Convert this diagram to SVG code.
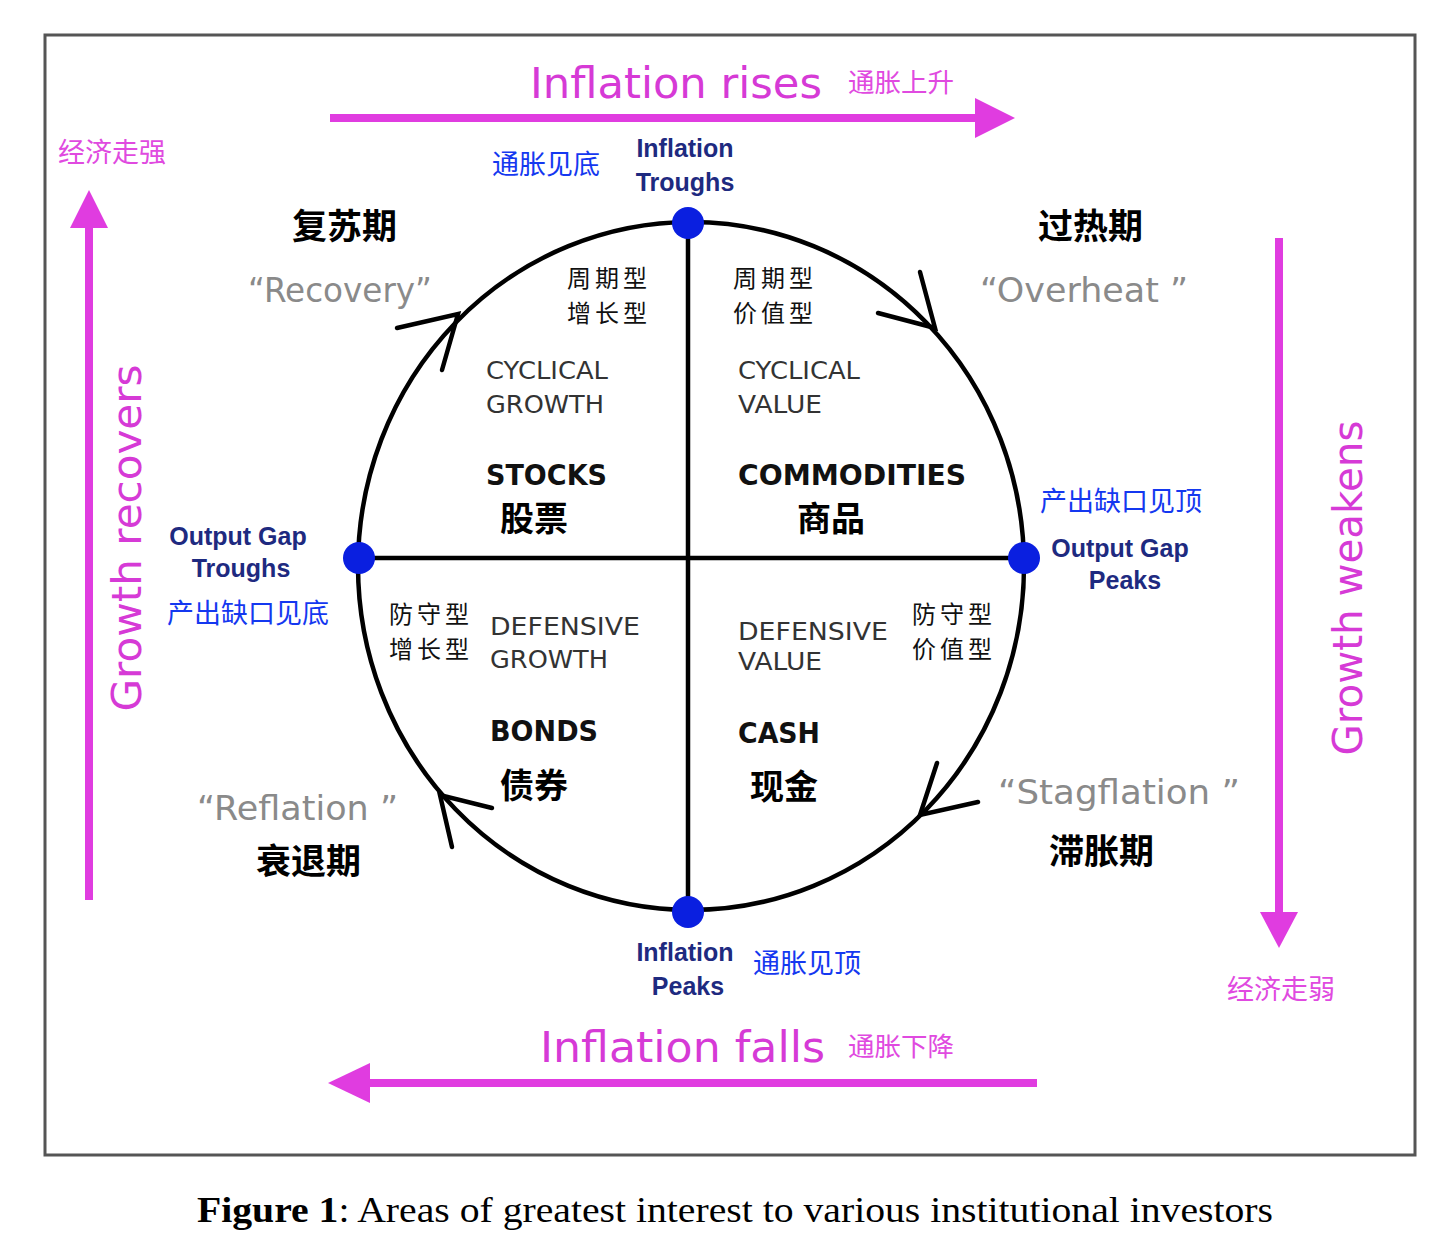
<svg xmlns="http://www.w3.org/2000/svg" width="1452" height="1242" viewBox="0 0 1452 1242">
<style>
.mag{fill:#d63ad6;font-family:"DejaVu Sans",sans-serif}
.magcn{fill:#e04ae0;font-family:"Noto Sans CJK SC",sans-serif}
.blue{fill:#1438f0;font-family:"Noto Sans CJK SC",sans-serif;font-size:27px}
.navy{fill:#1e2a80;font-family:"Liberation Sans",Arial,sans-serif;font-weight:bold;font-size:25px;text-anchor:middle}
.phase{fill:#000;font-family:"Noto Sans CJK SC",sans-serif;font-weight:bold;font-size:35px}
.quote{fill:#8a8a8a;font-family:"DejaVu Sans",sans-serif;font-size:33px}
.cn{fill:#111;font-family:"Noto Sans CJK SC",sans-serif;font-size:24px;letter-spacing:4px}
.comic{fill:#333;font-family:"DejaVu Sans",sans-serif;font-size:24px}
.asset{fill:#111;font-family:"DejaVu Sans",sans-serif;font-weight:bold;font-size:29px}
.assetcn{fill:#000;font-family:"Noto Sans CJK SC",sans-serif;font-weight:bold;font-size:34px}
.cyc{fill:none;stroke:#000;stroke-width:4.5;stroke-linecap:round}
.magline{stroke:#e03ce0;stroke-width:8;fill:none}
.dot{fill:#0a1fe0}
</style>
<rect x="0" y="0" width="1452" height="1242" fill="#fff"/>
<rect x="45" y="35" width="1370" height="1120" fill="none" stroke="#555" stroke-width="3"/>

<g id="connectors">
  <line class="magline" x1="330" y1="118" x2="980" y2="118"/>
  <polygon points="975,98 1015,118 975,138" fill="#e03ce0"/>
  <line class="magline" x1="1037" y1="1083" x2="365" y2="1083"/>
  <polygon points="370,1063 328,1083 370,1103" fill="#e03ce0"/>
  <line class="magline" x1="89" y1="900" x2="89" y2="222"/>
  <polygon points="70,228 89,190 108,228" fill="#e03ce0"/>
  <line class="magline" x1="1279" y1="238" x2="1279" y2="915"/>
  <polygon points="1260,912 1279,948 1298,912" fill="#e03ce0"/>
  <ellipse class="cyc" cx="691" cy="566" rx="333" ry="344"/>
  <line class="cyc" x1="688" y1="223" x2="688" y2="912"/>
  <line class="cyc" x1="359" y1="558" x2="1024" y2="558"/>
  <polyline class="cyc" points="397,328 458,314 442,370"/>
  <polyline class="cyc" points="920,272 935,328 878,313"/>
  <polyline class="cyc" points="937,763 920,815 978,802"/>
  <polyline class="cyc" points="492,808 440,795 452,847"/>
</g>

<g id="node-inflation-troughs">
  <circle class="dot" cx="688" cy="223" r="16"/>
  <text class="navy" x="685" y="157">Inflation</text>
  <text class="navy" x="685" y="191">Troughs</text>
  <text class="blue" x="492" y="174">通胀见底</text>
</g>
<g id="node-output-gap-peaks">
  <circle class="dot" cx="1024" cy="558" r="16"/>
  <text class="navy" x="1120" y="557">Output Gap</text>
  <text class="navy" x="1125" y="589">Peaks</text>
  <text class="blue" x="1040" y="511">产出缺口见顶</text>
</g>
<g id="node-output-gap-troughs">
  <circle class="dot" cx="359" cy="558" r="16"/>
  <text class="navy" x="238" y="545">Output Gap</text>
  <text class="navy" x="241" y="577">Troughs</text>
  <text class="blue" x="167" y="623">产出缺口见底</text>
</g>
<g id="node-inflation-peaks">
  <circle class="dot" cx="688" cy="912" r="16"/>
  <text class="navy" x="685" y="961">Inflation</text>
  <text class="navy" x="688" y="995">Peaks</text>
  <text class="blue" x="753" y="973">通胀见顶</text>
</g>

<g id="axis-labels">
  <text class="mag" x="530" y="98" font-size="42" textLength="292" lengthAdjust="spacingAndGlyphs">Inflation rises</text>
  <text class="magcn" x="848" y="92" font-size="26.5">通胀上升</text>
  <text class="mag" x="540" y="1062" font-size="42" textLength="285" lengthAdjust="spacingAndGlyphs">Inflation falls</text>
  <text class="magcn" x="848" y="1056" font-size="26.5">通胀下降</text>
  <text class="magcn" x="58" y="162" font-size="27">经济走强</text>
  <text class="magcn" x="1227" y="999" font-size="27">经济走弱</text>
  <text class="mag" font-size="40" text-anchor="middle" transform="translate(141,538) rotate(-90)" textLength="347" lengthAdjust="spacingAndGlyphs">Growth recovers</text>
  <text class="mag" font-size="40" text-anchor="middle" transform="translate(1362,588) rotate(-90)" textLength="335" lengthAdjust="spacingAndGlyphs">Growth weakens</text>
</g>

<g id="phase-recovery">
  <text class="phase" x="292" y="239">复苏期</text>
  <text class="quote" x="248" y="302" textLength="184" lengthAdjust="spacingAndGlyphs">“Recovery”</text>
</g>
<g id="phase-overheat">
  <text class="phase" x="1038" y="239">过热期</text>
  <text class="quote" x="980" y="302" textLength="208" lengthAdjust="spacingAndGlyphs">“Overheat ”</text>
</g>
<g id="phase-reflation">
  <text class="quote" x="197" y="820" textLength="201" lengthAdjust="spacingAndGlyphs">“Reflation ”</text>
  <text class="phase" x="256" y="874">衰退期</text>
</g>
<g id="phase-stagflation">
  <text class="quote" x="998" y="804" textLength="242" lengthAdjust="spacingAndGlyphs">“Stagflation ”</text>
  <text class="phase" x="1049" y="864">滞胀期</text>
</g>

<g id="quadrant-stocks">
  <text class="cn" x="567" y="287">周期型</text>
  <text class="cn" x="567" y="322">增长型</text>
  <text class="comic" x="486" y="379" textLength="122" lengthAdjust="spacingAndGlyphs">CYCLICAL</text>
  <text class="comic" x="486" y="413" textLength="118" lengthAdjust="spacingAndGlyphs">GROWTH</text>
  <text class="asset" x="486" y="485" textLength="121" lengthAdjust="spacingAndGlyphs">STOCKS</text>
  <text class="assetcn" x="500" y="531">股票</text>
</g>
<g id="quadrant-commodities">
  <text class="cn" x="733" y="287">周期型</text>
  <text class="cn" x="733" y="322">价值型</text>
  <text class="comic" x="738" y="379" textLength="122" lengthAdjust="spacingAndGlyphs">CYCLICAL</text>
  <text class="comic" x="738" y="413" textLength="84" lengthAdjust="spacingAndGlyphs">VALUE</text>
  <text class="asset" x="738" y="485" textLength="228" lengthAdjust="spacingAndGlyphs">COMMODITIES</text>
  <text class="assetcn" x="797" y="531">商品</text>
</g>
<g id="quadrant-bonds">
  <text class="cn" x="389" y="623">防守型</text>
  <text class="cn" x="389" y="658">增长型</text>
  <text class="comic" x="490" y="635" textLength="150" lengthAdjust="spacingAndGlyphs">DEFENSIVE</text>
  <text class="comic" x="490" y="668" textLength="118" lengthAdjust="spacingAndGlyphs">GROWTH</text>
  <text class="asset" x="490" y="741" textLength="108" lengthAdjust="spacingAndGlyphs">BONDS</text>
  <text class="assetcn" x="500" y="798">债券</text>
</g>
<g id="quadrant-cash">
  <text class="comic" x="738" y="640" textLength="150" lengthAdjust="spacingAndGlyphs">DEFENSIVE</text>
  <text class="comic" x="738" y="670" textLength="84" lengthAdjust="spacingAndGlyphs">VALUE</text>
  <text class="cn" x="912" y="623">防守型</text>
  <text class="cn" x="912" y="658">价值型</text>
  <text class="asset" x="738" y="743" textLength="82" lengthAdjust="spacingAndGlyphs">CASH</text>
  <text class="assetcn" x="750" y="799">现金</text>
</g>

<g id="caption">
  <text x="197" y="1222" font-family="Liberation Serif, serif" font-size="36" fill="#000" textLength="1076" lengthAdjust="spacingAndGlyphs"><tspan font-weight="bold">Figure 1</tspan>: Areas of greatest interest to various  institutional  investors</text>
</g>
</svg>
